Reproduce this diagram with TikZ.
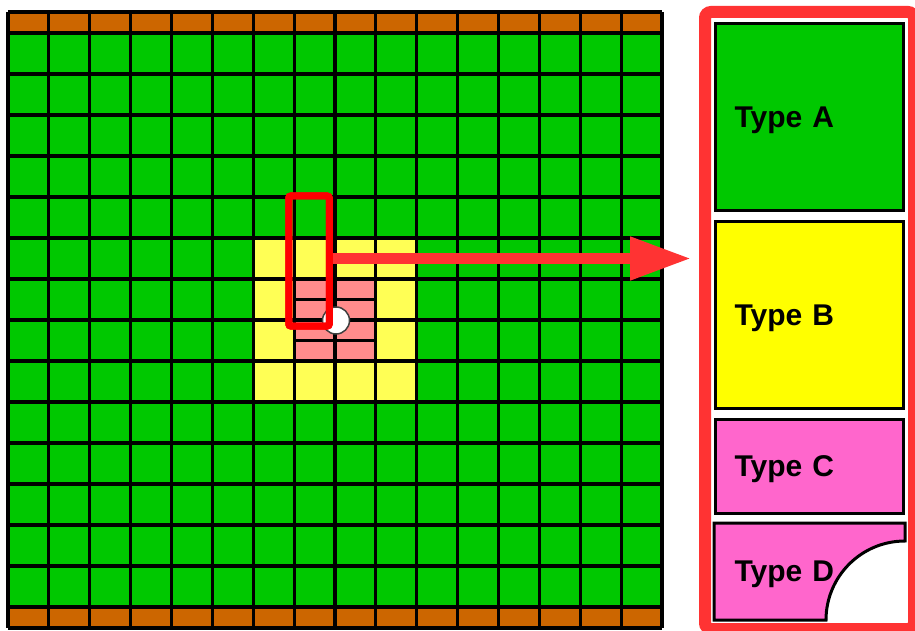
\documentclass[tikz,border=0pt]{standalone}
\usepackage{fontspec}
\setmainfont{Liberation Sans}
\usetikzlibrary{arrows.meta,positioning,backgrounds}
\definecolor{cA}{HTML}{00C800}
\definecolor{cB}{HTML}{FFFF00}
\definecolor{cC}{HTML}{FF66CC}
\definecolor{cO}{HTML}{CC6600}
\definecolor{cY}{HTML}{FFFF55}
\definecolor{cP}{HTML}{FF8C8C}
\definecolor{cR}{HTML}{FF0000}
\definecolor{cF}{HTML}{FF3333}

\begin{document}
\begin{tikzpicture}[x=1pt,y=-1pt,
  gline/.style={line width=3.2pt,black},
  tbox/.style={rectangle,draw,line width=3pt,align=left,text width=150pt,inner xsep=19pt,
              minimum height=187pt,text depth=0pt,font=\bfseries\fontsize{30}{36}\selectfont},
  frame/.style={rectangle,draw=cF,line width=12pt,rounded corners=6pt,inner sep=0pt,
              minimum width=209pt,minimum height=617pt},
  win/.style={rectangle,draw=cR,line width=7pt,rounded corners=2pt,inner sep=0pt,
              minimum width=40.5pt,minimum height=130pt},
  hole/.style={circle,fill=white,draw=black!75,line width=1.5pt,inner sep=0pt,minimum size=27pt},
  arr/.style={draw=cF,line width=11pt,-{Triangle[length=61pt,width=41pt]},shorten >=8pt},
  node distance=8pt]
\useasboundingbox (0,0) rectangle (915,631);

\fill[cA] (8,33) rectangle (662,607);
\fill[cO] (8,12) rectangle (662,33);
\fill[cO] (8,607) rectangle (662,628);
\fill[cY] (253.25,238) rectangle (416.75,402);
\fill[cP] (294.125,279) rectangle (375.875,361);
\foreach \i in {0,...,16}
  \draw[gline] ({8+40.875*\i},12) -- ({8+40.875*\i},628);
\foreach \j in {0,...,14}
  \draw[gline] (8,{33+41*\j}) -- (662,{33+41*\j});
\draw[gline] (8,12) -- (662,12);
\draw[gline] (8,628) -- (662,628);
\draw[gline,line width=2.6pt] (294.125,299.5) -- (375.875,299.5);
\draw[gline,line width=2.6pt] (294.125,340.5) -- (375.875,340.5);

\node[hole] (hole) at (336,320.5) {};
\node[frame] (panel) at (809.5,320.5) {};
\node[win] (win) at (309,261) {};
\draw[arr] ([yshift=2.5pt]win.east) -- ([yshift=2.5pt]win.east -| panel.west);
\node[win] at (win) {};

\node[tbox,fill=cA] (ta) at (809.5,117) {Type A};
\node[tbox,fill=cB,below=of ta] (tb) {Type B};
\node[tbox,fill=cC,minimum height=94pt,below=of tb] (tc) {Type C};
\node[tbox,draw=none,minimum height=94pt,below=of tc] (td) {Type D};
\begin{scope}[on background layer]
\filldraw[fill=cC,line width=3pt] (td.north west) -- (td.north east)
  -- ([yshift=79pt]td.south east) arc[start angle=270,end angle=180,radius=79]
  -- (td.south west) -- cycle;
\end{scope}
\end{tikzpicture}
\end{document}
